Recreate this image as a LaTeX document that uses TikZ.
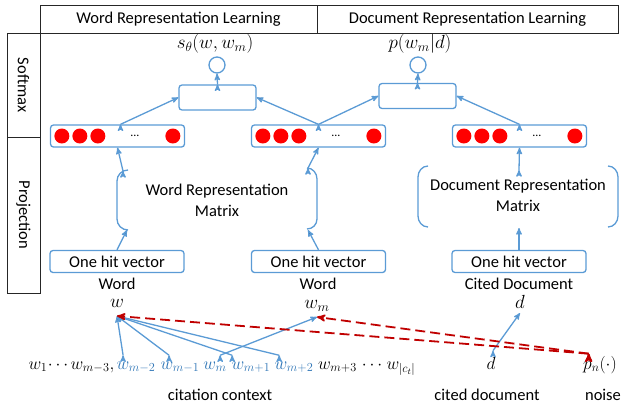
\RequirePackage{fix-cm}
\documentclass[tikz,border=0pt]{standalone}
\usepackage{fontspec}
\setmainfont{Carlito}
\usetikzlibrary{arrows}
\definecolor{lblue}{HTML}{5B9BD5}
\definecolor{tblue}{HTML}{2E75B6}
\definecolor{dred}{HTML}{C00000}

\begin{document}
\begin{tikzpicture}[x=1pt,y=-1pt,>=stealth',font=\fontsize{16.5}{21}\selectfont]
  \tikzset{hdr/.style={draw=black!85,line width=0.9pt,minimum height=28,inner sep=0pt},
    layer/.style={draw=black!85,line width=0.9pt,rotate=-90,minimum height=33,inner sep=0pt},
    vec/.style={draw=lblue,line width=1.3pt,rounded corners=3pt,minimum width=134,minimum height=22,inner sep=0pt},
    sbox/.style={draw=lblue,line width=1.3pt,rounded corners=3pt,minimum width=77,minimum height=25,inner sep=0pt},
    unit/.style={draw=lblue,line width=1.3pt,circle,minimum size=16,inner sep=0pt},
    mth/.style={font=\fontsize{19}{22}\selectfont},
    endpt/.style={mth,anchor=south,inner ysep=#1},
    row/.style={font=\fontsize{17.5}{22}\selectfont,anchor=base,inner ysep=6pt},
    ctx/.style={row,text=tblue},
    lnk/.style={->,draw=lblue,line width=1.3pt},
    noise/.style={->,draw=dred,line width=1.8pt,dash pattern=on 10pt off 5pt}}
  \useasboundingbox (0,0) rectangle (621,410);

  \node[hdr,minimum width=277] (wrl) at (178.5,19) {Word Representation Learning};
  \node[hdr,minimum width=301] (drl) at (467.5,19) {Document Representation Learning};
  \node[layer,minimum width=104] (smx) at (23.5,85) {Softmax};
  \node[layer,minimum width=156] (prj) at (23.5,215) {Projection};

  \node[mth] (s1) at (215,44) {$s_\theta(w,w_m)$};
  \node[mth] (s2) at (420,44) {$p(w_m|d)$};
  \node[unit] (c1) at (217,65) {};
  \node[unit] (c2) at (418,65) {};
  \node[sbox] (sm1) at (217.5,97.5) {};
  \node[sbox] (sm2) at (417.5,96) {};
  \node[vec] (h1) at (117.5,136) {};
  \node[vec] (h2) at (318.5,136) {};
  \node[vec] (h3) at (519.5,136) {};
  \foreach \b in {h1,h2,h3} {
    \foreach \dx in {12,30,48,123}
      \fill[red] ([xshift=\dx]\b.west) circle (7.5);
    \node[font=\fontsize{12}{14}\selectfont] (\b-dd) at ([xshift=85]\b.west) {...};
  }

  \node[vec] (o1) at (117,261.5) {One hit vector};
  \node[vec] (o2) at (318.5,261.5) {One hit vector};
  \node[vec] (o3) at (519,261.5) {One hit vector};
  \node (l1) at (117,284) {Word};
  \node (l2) at (318,284) {Word};
  \node (l3) at (519,284) {Cited Document};
  \node[align=center] (wm) at (217,200) {Word Representation\\Matrix};
  \node[align=center] (dm) at (518,195) {Document Representation\\Matrix};

  \draw[lblue,line width=1.3pt] (128,170) to[out=180,in=90] (117,181) -- (117,219) to[out=-90,in=180] (128,230);
  \draw[lblue,line width=1.3pt] (307,168) to[out=0,in=90] (317,179) -- (317,219) to[out=-90,in=0] (307,229);
  \draw[lblue,line width=1.3pt] (428,166) to[out=180,in=90] (418,177) -- (418,216) to[out=-90,in=180] (428,227);
  \draw[lblue,line width=1.3pt] (608,166) to[out=0,in=90] (618,177) -- (618,216) to[out=-90,in=0] (608,227);
  \coordinate (wlb) at (127,230);
  \coordinate (wlt) at (123,171);
  \coordinate (wrb) at (308,230);
  \coordinate (wrt) at (308,168);
  \coordinate (dmb) at (519,228);
  \coordinate (dmt) at (519,170);

  \path[lnk] (o1.north) edge (wlb) (wlt) edge (h1.south);
  \path[lnk] (o2.north) edge (wrb) (wrt) edge (h2.south);
  \path[lnk] (o3.north) edge (dmb) (dmt) edge (h3.south);
  \path[lnk] ([xshift=3]h1.north) edge (sm1.west);
  \path[lnk] (h2.north) edge (sm1.east) (h2.north) edge (sm2.west);
  \path[lnk] (h3.north) edge (sm2.east);
  \path[lnk] (sm1.north) edge (c1.south);
  \path[lnk] (sm2.north) edge (c2.south);

  \node[endpt=8pt] (w) at (117,316) {$w$};
  \node[endpt=5pt] (wmu) at (317,317) {$w_m$};
  \node[endpt=4pt] (du) at (520,313) {$d$};

  \node[row] (w1) at (38,369) {$w_1$};
  \node[row] (el1) at (58,369) {$\cdots$};
  \node[row] (wmm3) at (92.5,369) {$w_{m-3},$};
  \node[ctx] (wmm2) at (136,369) {$w_{m-2}$};
  \node[ctx] (wmm1) at (180,369) {$w_{m-1}$};
  \node[ctx] (wm0) at (215,369) {$w_m$};
  \node[ctx] (wmp1) at (251,369) {$w_{m+1}$};
  \node[ctx] (wmp2) at (294,369) {$w_{m+2}$};
  \node[row] (wmp3) at (337.5,369) {$w_{m+3}$};
  \node[row] (el2) at (372,369) {$\cdots$};
  \node[row] (wct) at (401,369) {$w_{|c_t|}$};
  \node[row] (dl) at (491,369) {$d$};
  \node[row] (pn) at (600,369) {$p_n(\cdot)$};

  \node (cc) at (220,395) {citation context};
  \node (cdl) at (487,395) {cited document};
  \node (nz) at (603,395) {noise};

  \path[lnk] ([xshift=10]wmm2.north west) edge (w.south);
  \path[lnk] ([xshift=12]wmm1.north west) edge (w.south);
  \path[lnk] ([xshift=4]wmp1.north west) edge (w.south);
  \path[lnk] ([xshift=8]wmp2.north west) edge (w.south);
  \path[lnk] ([xshift=-10]wm0.north east) edge (wmu.south);
  \path[lnk] ([xshift=2]dl.north) edge (du.south);
  \path[noise] ([shift={(9,4)}]pn.north west) edge (w.south);
  \path[noise] ([shift={(9,4)}]pn.north west) edge (wmu.south);
\end{tikzpicture}
\end{document}
